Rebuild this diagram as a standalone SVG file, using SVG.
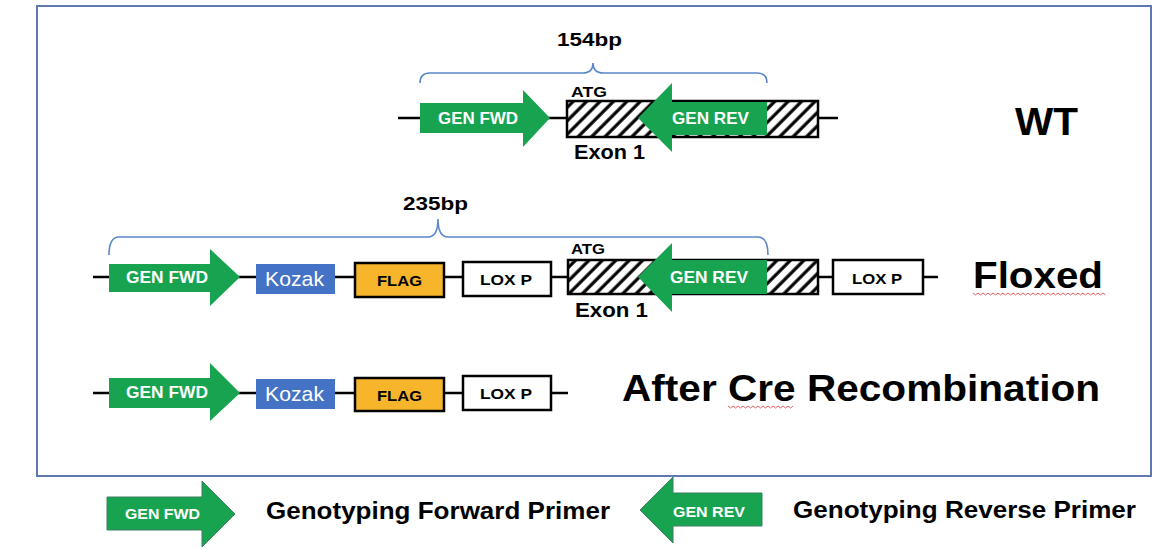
<svg xmlns="http://www.w3.org/2000/svg" width="1165" height="548" viewBox="0 0 1165 548">
<defs>
<pattern id="hatch" width="9.5" height="9.5" patternUnits="userSpaceOnUse" patternTransform="rotate(45)">
<rect width="9.5" height="9.5" fill="#fff"/>
<line x1="2" y1="0" x2="2" y2="9.5" stroke="#000" stroke-width="3.2"/>
</pattern>
</defs>
<style>
.t{font-family:"Liberation Sans",Arial,sans-serif;font-weight:bold;fill:#000}
.w{font-family:"Liberation Sans",Arial,sans-serif;font-weight:bold;fill:#fff}
.k{font-family:"Liberation Sans",Arial,sans-serif;fill:#fff}
.arr{fill:#17a34f}
.leg{fill:#17a34f;stroke:#3f7f63;stroke-width:1}
.bb{stroke:#000;stroke-width:2.5;fill:none}
.br{stroke:#5b86c9;stroke-width:1.6;fill:none}
.box{stroke:#000;stroke-width:2.5}
.sq{stroke:#e06060;stroke-width:1;fill:none}
</style>
<rect x="0" y="0" width="1165" height="548" fill="#fff"/>
<rect x="37" y="6" width="1114" height="470" fill="#fff" stroke="#5f79b0" stroke-width="2"/>

<g id="connectors">
<line class="bb" x1="398" y1="118" x2="838" y2="118"/>
<line class="bb" x1="93" y1="277" x2="938" y2="277"/>
<line class="bb" x1="93" y1="393" x2="568" y2="393"/>
<path class="br" d="M420,83 Q420,73 430,73 L583,73 Q593,73 593,63 Q593,73 603,73 L757,73 Q767,73 767,83"/>
<path class="br" d="M109,255 Q109,237 119,237 L428,237 Q438,237 438,219 Q438,237 448,237 L758,237 Q768,237 768,255"/>
</g>

<g id="wt">
<rect class="box" x="567" y="101" width="251" height="36" fill="url(#hatch)"/>
<polygon class="arr" points="420,103 523,103 523,90 550,118 523,147 523,133 420,133"/>
<polygon class="arr" points="767,102 672,102 672,83 638,118 672,152 672,135 767,135"/>
<text class="w" x="438" y="124" font-size="16" textLength="80" lengthAdjust="spacingAndGlyphs">GEN FWD</text>
<text class="w" x="672" y="124" font-size="16" textLength="77" lengthAdjust="spacingAndGlyphs">GEN REV</text>
<text class="t" x="571" y="97" font-size="14" textLength="36" lengthAdjust="spacingAndGlyphs">ATG</text>
<text class="t" x="574" y="159" font-size="20" textLength="71" lengthAdjust="spacingAndGlyphs">Exon 1</text>
<text class="t" x="557" y="46" font-size="19" textLength="65" lengthAdjust="spacingAndGlyphs">154bp</text>
<text class="t" x="1015" y="135" font-size="39" textLength="63" lengthAdjust="spacingAndGlyphs">WT</text>
</g>

<g id="floxed">
<rect class="box" x="568" y="260" width="250" height="34" fill="url(#hatch)"/>
<polygon class="arr" points="109,264 210,264 210,249 240,277 210,306 210,292 109,292"/>
<rect x="256" y="264" width="79" height="30" fill="#4473c5"/>
<rect class="box" x="355" y="263" width="89" height="34" fill="#f7b52c"/>
<rect class="box" x="463" y="262" width="88" height="34" fill="#fff"/>
<polygon class="arr" points="767,260 672,260 672,243 638,277 672,312 672,294 767,294"/>
<rect class="box" x="833" y="260" width="90" height="34" fill="#fff"/>
<text class="w" x="126" y="283" font-size="16" textLength="82" lengthAdjust="spacingAndGlyphs">GEN FWD</text>
<text class="k" x="265" y="286" font-size="21" textLength="59" lengthAdjust="spacingAndGlyphs">Kozak</text>
<text class="t" x="377" y="286" font-size="15" textLength="45" lengthAdjust="spacingAndGlyphs">FLAG</text>
<text class="t" x="480" y="285" font-size="15" textLength="52" lengthAdjust="spacingAndGlyphs">LOX P</text>
<text class="w" x="670" y="283" font-size="16" textLength="78" lengthAdjust="spacingAndGlyphs">GEN REV</text>
<text class="t" x="852" y="284" font-size="15" textLength="50" lengthAdjust="spacingAndGlyphs">LOX P</text>
<text class="t" x="571" y="254" font-size="14" textLength="34" lengthAdjust="spacingAndGlyphs">ATG</text>
<text class="t" x="575" y="317" font-size="20" textLength="73" lengthAdjust="spacingAndGlyphs">Exon 1</text>
<text class="t" x="403" y="210" font-size="19" textLength="65" lengthAdjust="spacingAndGlyphs">235bp</text>
<text class="t" x="973" y="288" font-size="37" textLength="130" lengthAdjust="spacingAndGlyphs">Floxed</text>
<path class="sq" d="M973,293 l2.5,2 l2.5,-2 l2.5,2 l2.5,-2 l2.5,2 l2.5,-2 l2.5,2 l2.5,-2 l2.5,2 l2.5,-2 l2.5,2 l2.5,-2 l2.5,2 l2.5,-2 l2.5,2 l2.5,-2 l2.5,2 l2.5,-2 l2.5,2 l2.5,-2 l2.5,2 l2.5,-2 l2.5,2 l2.5,-2 l2.5,2 l2.5,-2 l2.5,2 l2.5,-2 l2.5,2 l2.5,-2 l2.5,2 l2.5,-2 l2.5,2 l2.5,-2 l2.5,2 l2.5,-2 l2.5,2 l2.5,-2 l2.5,2 l2.5,-2 l2.5,2 l2.5,-2 l2.5,2 l2.5,-2 l2.5,2 l2.5,-2 l2.5,2 l2.5,-2 l2.5,2 l2.5,-2 l2.5,2 l2.5,-2 l2.5,2"/>
</g>

<g id="after-cre">
<polygon class="arr" points="109,378 210,378 210,363 240,393 210,421 210,408 109,408"/>
<rect x="256" y="379" width="79" height="30" fill="#4473c5"/>
<rect class="box" x="355" y="378" width="89" height="33" fill="#f7b52c"/>
<rect class="box" x="463" y="376" width="88" height="34" fill="#fff"/>
<text class="w" x="126" y="398" font-size="16" textLength="82" lengthAdjust="spacingAndGlyphs">GEN FWD</text>
<text class="k" x="265" y="401" font-size="21" textLength="59" lengthAdjust="spacingAndGlyphs">Kozak</text>
<text class="t" x="377" y="401" font-size="15" textLength="45" lengthAdjust="spacingAndGlyphs">FLAG</text>
<text class="t" x="480" y="399" font-size="15" textLength="52" lengthAdjust="spacingAndGlyphs">LOX P</text>
<text class="t" x="622" y="401" font-size="37" textLength="478" lengthAdjust="spacingAndGlyphs">After Cre Recombination</text>
<path class="sq" d="M728,406 l2.5,2 l2.5,-2 l2.5,2 l2.5,-2 l2.5,2 l2.5,-2 l2.5,2 l2.5,-2 l2.5,2 l2.5,-2 l2.5,2 l2.5,-2 l2.5,2 l2.5,-2 l2.5,2 l2.5,-2 l2.5,2 l2.5,-2 l2.5,2 l2.5,-2 l2.5,2 l2.5,-2 l2.5,2 l2.5,-2 l2.5,2 l2.5,-2"/>
</g>

<g id="legend-fwd">
<polygon class="leg" points="107,497 202,497 202,481 235,514 202,547 202,530 107,530"/>
<text class="w" x="125" y="519" font-size="15" textLength="75" lengthAdjust="spacingAndGlyphs">GEN FWD</text>
<text class="t" x="266" y="519" font-size="23" textLength="344" lengthAdjust="spacingAndGlyphs">Genotyping Forward Primer</text>
</g>

<g id="legend-rev">
<polygon class="leg" points="762,493 673,493 673,477 640,510 673,543 673,526 762,526"/>
<text class="w" x="673" y="517" font-size="15" textLength="72" lengthAdjust="spacingAndGlyphs">GEN REV</text>
<text class="t" x="793" y="518" font-size="23" textLength="343" lengthAdjust="spacingAndGlyphs">Genotyping Reverse Primer</text>
</g>
</svg>
